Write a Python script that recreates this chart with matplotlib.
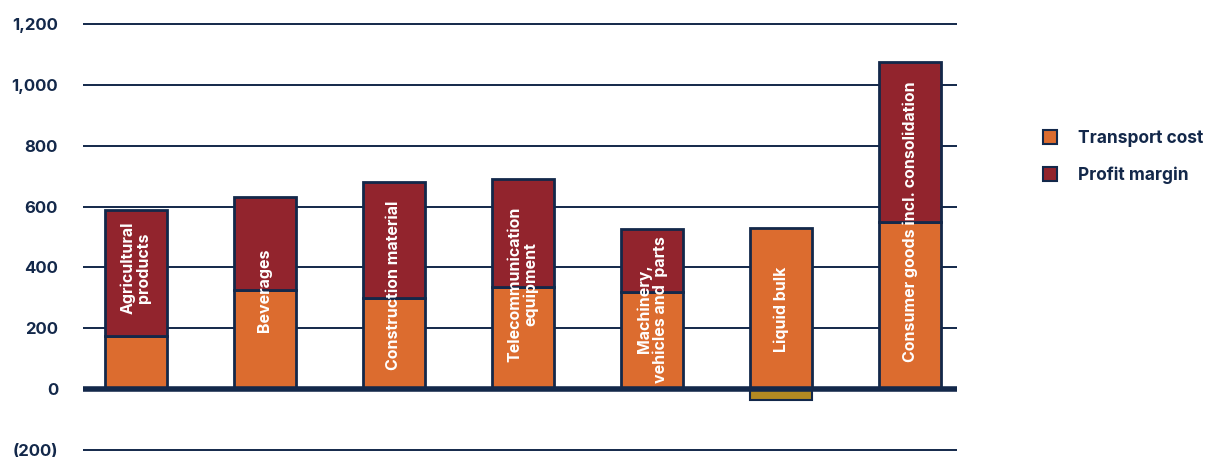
import numpy as np
import matplotlib.pyplot as plt
from matplotlib.patches import Patch

# values
categories = ['Agricultural\nproducts', 'Beverages', 'Construction material',
              'Telecommunication\nequipment', 'Machinery,\nvehicles and  parts',
              'Liquid bulk', 'Consumer goods incl. consolidation']
transport_cost = [175, 325, 300, 335, 320, 530, 550]
profit_margin = [415, 305, 380, 355, 205, -35, 525]
label_y = [398, 326, 342, 345, 263, 263, 549]

ORANGE = '#DC6C2F'
RED = '#92242D'
MUSTARD = '#B38A22'
NAVY = '#13284A'

plt.rcParams['font.family'] = ['Inter', 'DejaVu Sans']

fig = plt.figure(figsize=(12.06, 4.57), dpi=100)
ax = fig.add_axes([83/1206, 4/457, (957-83)/1206, 432/457])

x = np.arange(len(categories))
w = 0.48
tc = np.array(transport_cost)
pm = np.array(profit_margin)

# grid first so bars sit on top
for v in range(-200, 1201, 200):
    ax.axhline(v, color=NAVY, lw=4 if v == 0 else 1.4, zorder=1 if v else 4)

ax.bar(x, tc, w, color=ORANGE, edgecolor=NAVY, linewidth=2, zorder=3)
pos = pm > 0
ax.bar(x[pos], pm[pos], w, bottom=tc[pos], color=RED, edgecolor=NAVY, linewidth=2, zorder=3)
ax.bar(x[~pos], pm[~pos], w, color=MUSTARD, edgecolor=NAVY, linewidth=1.5, zorder=3)

for xi, lab, ly in zip(x, categories, label_y):
    ax.text(xi, ly, lab, rotation=90, ha='center', va='center', color='white',
            fontweight='bold', fontsize=11.5, linespacing=1.05, zorder=5)

ax.set_xlim(-0.41, 6.365)
ax.set_ylim(-210, 1210)
ax.set_yticks(range(-200, 1201, 200))
ax.set_yticklabels(['(200)', '0', '200', '400', '600', '800', '1,000', '1,200'])
ax.tick_params(axis='y', length=0, pad=18, labelsize=12, labelcolor=NAVY)
for t in ax.get_yticklabels():
    t.set_fontweight('bold')
ax.set_xticks([])
for s in ax.spines.values():
    s.set_visible(False)

handles = [Patch(facecolor=ORANGE, edgecolor=NAVY, linewidth=1.5, label='Transport cost'),
           Patch(facecolor=RED, edgecolor=NAVY, linewidth=1.5, label='Profit margin')]
leg = fig.legend(handles=handles, loc='center left', bbox_to_anchor=(1027/1206, 1 - 157/457),
                 frameon=False, handlelength=0.85, handleheight=0.85, handletextpad=1.2,
                 labelspacing=1.15, prop={'weight': 'bold', 'size': 12.5})
for t in leg.get_texts():
    t.set_color(NAVY)

fig.savefig('out.png', dpi=100)
